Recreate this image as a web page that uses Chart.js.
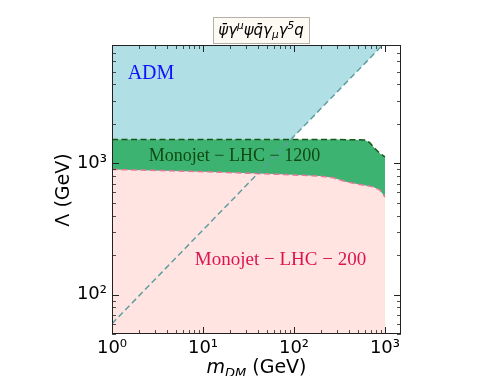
<!DOCTYPE html>
<html>
<head>
<meta charset="utf-8">
<script src="https://cdn.jsdelivr.net/npm/chart.js@4.4.1/dist/chart.umd.min.js"></script>
<style>
  html, body { margin: 0; padding: 0; background: #fff; }
  canvas { display: block; }
</style>
</head>
<body>
<canvas id="c" width="501" height="376"></canvas>
<script>
// ADM boundary (dashed diagonal), region above it is shaded
const admMass = [1, 943];
const admLambda = [60, 8000];

// Monojet LHC 1200 limit
const mono1200Mass = [1, 10, 100, 300, 600, 680, 775, 880, 1000];
const mono1200Lambda = [1525, 1525, 1525, 1522, 1510, 1440, 1300, 1190, 1120];

// Monojet LHC 200 limit
const mono200Mass = [1, 10, 70, 190, 270, 380, 530, 745, 880, 1000];
const mono200Lambda = [900, 865, 825, 800, 776, 723, 690, 662, 625, 555];

const xTickValues = [1, 10, 100, 1000];
const yTickValues = [100, 1000];
const xRange = [1, 1500];
const yRange = [50, 8000];

const regionLabels = ['ADM', 'Monojet \u2212 LHC \u2212 1200', 'Monojet \u2212 LHC \u2212 200'];

const SUP = { '0': '\u2070', '1': '\u00b9', '2': '\u00b2', '3': '\u00b3' };
function powLabel(v) {
  const e = Math.round(Math.log10(v));
  return '10' + String(e).split('').map(d => SUP[d]).join('');
}
function toPoints(xs, ys) { return xs.map((x, i) => ({ x: x, y: ys[i] })); }

// minor + major log ticks between min and max
function logTicks(min, max) {
  const out = [];
  for (let n = Math.floor(Math.log10(min)); n <= Math.ceil(Math.log10(max)); n++) {
    for (let k = 1; k <= 9; k++) {
      const v = k * Math.pow(10, n);
      if (v >= min && v <= max) out.push({ v: v, major: k === 1 });
    }
  }
  return out;
}

// draw a run of mixed text pieces starting at x
function drawPieces(ctx, pieces, x, y) {
  pieces.forEach(p => {
    ctx.font = p.font;
    ctx.fillText(p.t, x, y + (p.dy || 0));
    x += ctx.measureText(p.t).width;
  });
}
function piecesWidth(ctx, pieces) {
  let w = 0;
  pieces.forEach(p => { ctx.font = p.font; w += ctx.measureText(p.t).width; });
  return w;
}

const decorations = {
  id: 'decorations',
  afterDatasetsDraw(chart) {
    const ctx = chart.ctx;
    ctx.save();
    ctx.textAlign = 'center';
    ctx.textBaseline = 'alphabetic';
    ctx.font = '20px "Liberation Serif"';
    ctx.fillStyle = '#1010ff';
    ctx.fillText(regionLabels[0], 151, 79);
    ctx.font = '18px "Liberation Serif"';
    ctx.fillStyle = '#104a12';
    ctx.fillText(regionLabels[1], 234.5, 161);
    ctx.font = '19px "Liberation Serif"';
    ctx.fillStyle = '#dc1452';
    ctx.fillText(regionLabels[2], 280.5, 265);
    ctx.restore();
  },
  afterDraw(chart) {
    const ctx = chart.ctx;
    const a = chart.chartArea;
    const xs = chart.scales.x, ys = chart.scales.y;
    ctx.save();

    // frame
    ctx.strokeStyle = '#222';
    ctx.lineWidth = 1;
    ctx.strokeRect(Math.round(a.left) + 0.5, Math.round(a.top) + 0.5,
      Math.round(a.right - a.left) - 1, Math.round(a.bottom - a.top) - 1);

    // inward ticks on all four sides
    logTicks(xRange[0], xRange[1]).forEach(t => {
      const px = Math.round(xs.getPixelForValue(t.v)) + 0.5;
      const len = t.major ? 7 : 4;
      ctx.lineWidth = t.major ? 1 : 0.8;
      ctx.beginPath();
      ctx.moveTo(px, a.bottom); ctx.lineTo(px, a.bottom - len);
      ctx.moveTo(px, a.top); ctx.lineTo(px, a.top + len);
      ctx.stroke();
    });
    logTicks(yRange[0], yRange[1]).forEach(t => {
      const py = Math.round(ys.getPixelForValue(t.v)) + 0.5;
      const len = t.major ? 7 : 4;
      ctx.lineWidth = t.major ? 1 : 0.8;
      ctx.beginPath();
      ctx.moveTo(a.left, py); ctx.lineTo(a.left + len, py);
      ctx.moveTo(a.right, py); ctx.lineTo(a.right - len, py);
      ctx.stroke();
    });

    ctx.fillStyle = '#000';
    ctx.textBaseline = 'alphabetic';

    // x axis title: m_DM (GeV)
    const xt = [
      { t: 'm', font: 'italic 19px "DejaVu Sans"' },
      { t: 'DM', font: 'italic 13px "DejaVu Sans"', dy: 4 },
      { t: ' (GeV)', font: '19px "DejaVu Sans"' }
    ];
    const xtw = piecesWidth(ctx, xt);
    drawPieces(ctx, xt, (a.left + a.right) / 2 - xtw / 2, 373);

    // y axis title
    ctx.save();
    ctx.translate(69, 190);
    ctx.rotate(-Math.PI / 2);
    ctx.font = '19px "DejaVu Sans"';
    ctx.textAlign = 'center';
    ctx.fillText('\u039b (GeV)', 0, 0);
    ctx.restore();

    // title box
    const tt = [
      { t: '\u03c8\u0304', font: 'italic 15px "DejaVu Sans"' },
      { t: '\u03b3', font: 'italic 15px "DejaVu Sans"' },
      { t: '\u03bc', font: 'italic 10.5px "DejaVu Sans"', dy: -6 },
      { t: '\u03c8', font: 'italic 15px "DejaVu Sans"' },
      { t: 'q\u0304', font: 'italic 15px "DejaVu Sans"' },
      { t: '\u03b3', font: 'italic 15px "DejaVu Sans"' },
      { t: '\u03bc', font: 'italic 10.5px "DejaVu Sans"', dy: 3 },
      { t: '\u03b3', font: 'italic 15px "DejaVu Sans"' },
      { t: '5', font: 'italic 10.5px "DejaVu Sans"', dy: -6 },
      { t: 'q', font: 'italic 15px "DejaVu Sans"' }
    ];
    const ttw = piecesWidth(ctx, tt);
    const cx = 261;
    ctx.fillStyle = '#fdf9f3';
    ctx.strokeStyle = '#b5b0aa';
    ctx.lineWidth = 1;
    const bx = Math.round(cx - ttw / 2 - 5) + 0.5;
    const bw = Math.round(ttw + 10);
    ctx.fillRect(bx, 17.5, bw, 26);
    ctx.strokeRect(bx, 17.5, bw, 26);
    ctx.fillStyle = '#000';
    drawPieces(ctx, tt, cx - ttw / 2, 35);

    ctx.restore();
  }
};

const tickFont = { family: 'DejaVu Sans', size: 18 };

new Chart(document.getElementById('c'), {
  type: 'scatter',
  data: {
    datasets: [
      {
        label: 'ADM line',
        data: toPoints(admMass, admLambda),
        showLine: true,
        borderColor: '#5f9ea0',
        borderWidth: 1.5,
        borderDash: [6, 3.5],
        pointRadius: 0,
        fill: false,
        order: 0
      },
      {
        label: 'Monojet-LHC-200',
        data: toPoints(mono200Mass, mono200Lambda),
        showLine: true,
        borderColor: '#e67a9e',
        borderWidth: 1.5,
        borderDash: [6, 3.5],
        backgroundColor: '#ffe4e1',
        pointRadius: 0,
        fill: 'start',
        order: 1
      },
      {
        label: 'Monojet-LHC-1200',
        data: toPoints(mono1200Mass, mono1200Lambda),
        showLine: true,
        borderColor: '#17561a',
        borderWidth: 1.5,
        borderDash: [6, 3.5],
        backgroundColor: '#3cb371',
        pointRadius: 0,
        fill: 'start',
        order: 2
      },
      {
        label: 'ADM',
        data: toPoints(admMass, admLambda),
        showLine: true,
        borderWidth: 0,
        borderColor: 'rgba(0,0,0,0)',
        backgroundColor: '#b0dfe5',
        pointRadius: 0,
        fill: 'end',
        order: 3
      }
    ]
  },
  options: {
    responsive: false,
    animation: false,
    devicePixelRatio: 1,
    layout: { padding: { top: 45, right: 100, left: 0, bottom: 0 } },
    plugins: {
      legend: { display: false },
      tooltip: { enabled: false },
      title: { display: false }
    },
    scales: {
      x: {
        type: 'logarithmic',
        min: xRange[0],
        max: xRange[1],
        grid: { display: false, drawTicks: false },
        border: { display: false },
        afterBuildTicks: s => { s.ticks = xTickValues.map(v => ({ value: v })); },
        afterFit: s => { s.height = 42; },
        ticks: {
          autoSkip: false,
          maxRotation: 0,
          padding: 4,
          color: '#000',
          font: tickFont,
          callback: v => powLabel(v)
        }
      },
      y: {
        type: 'logarithmic',
        min: yRange[0],
        max: yRange[1],
        grid: { display: false, drawTicks: false },
        border: { display: false },
        afterBuildTicks: s => { s.ticks = yTickValues.map(v => ({ value: v })); },
        afterFit: s => { s.width = 112; },
        ticks: {
          autoSkip: false,
          padding: 5,
          color: '#000',
          font: tickFont,
          callback: v => powLabel(v)
        }
      }
    }
  },
  plugins: [decorations]
});
</script>
</body>
</html>
